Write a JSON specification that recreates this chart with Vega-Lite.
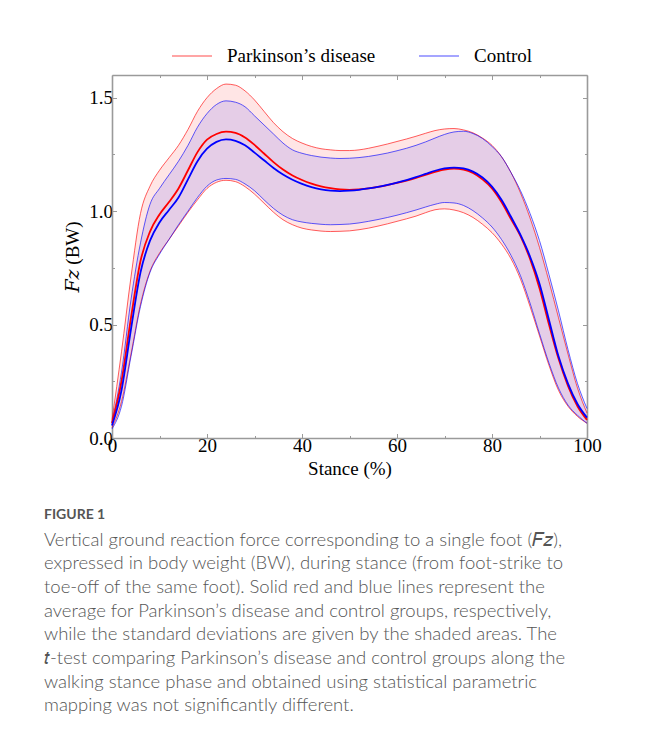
{
  "$schema": "https://vega.github.io/schema/vega-lite/v6.json",
  "width": 475,
  "height": 363,
  "autosize": {"type": "none"},
  "padding": {"left": 112, "top": 75, "right": 61, "bottom": 297},
  "background": "white",
  "config": {
    "view": {"stroke": null},
    "axis": {
      "labelFont": "Liberation Serif", "labelFontSize": 19, "labelColor": "black",
      "titleFont": "Liberation Serif, DejaVu Serif", "titleFontSize": 19, "titleFontWeight": "normal", "titleColor": "black",
      "domainColor": "#9a9a9a", "domainWidth": 1.6, "tickColor": "#9a9a9a", "tickWidth": 1,
      "grid": false, "labelFlush": false, "labelOverlap": false
    }
  },
  "title": {
    "text": "FIGURE 1",
    "subtitle": [
      "Vertical ground reaction force corresponding to a single foot (𝐹𝑧),",
      "expressed in body weight (BW), during stance (from foot-strike to",
      "toe-off of the same foot). Solid red and blue lines represent the",
      "average for Parkinson’s disease and control groups, respectively,",
      "while the standard deviations are given by the shaded areas. The",
      "𝑡-test comparing Parkinson’s disease and control groups along the",
      "walking stance phase and obtained using statistical parametric",
      "mapping was not significantly different."
    ],
    "orient": "bottom", "anchor": "start", "frame": "group", "dx": -68, "offset": 29,
    "font": "Lato", "fontSize": 14, "fontWeight": "bold", "color": "#555555",
    "subtitleFont": "Lato", "subtitleFontSize": 18.5, "subtitleFontWeight": 300, "subtitleColor": "#555555",
    "subtitleLineHeight": 23.7, "subtitlePadding": 9
  },
  "datasets": {
    "d": [
      {"x":0,"g":"Parkinson’s disease","lo":0.045,"m":0.065,"hi":0.08},
      {"x":2,"g":"Parkinson’s disease","lo":0.16,"m":0.25,"hi":0.38},
      {"x":4,"g":"Parkinson’s disease","lo":0.37,"m":0.53,"hi":0.71},
      {"x":6,"g":"Parkinson’s disease","lo":0.59,"m":0.78,"hi":0.99},
      {"x":8,"g":"Parkinson’s disease","lo":0.735,"m":0.91,"hi":1.11},
      {"x":10,"g":"Parkinson’s disease","lo":0.815,"m":0.985,"hi":1.18},
      {"x":12,"g":"Parkinson’s disease","lo":0.875,"m":1.04,"hi":1.235},
      {"x":14,"g":"Parkinson’s disease","lo":0.935,"m":1.10,"hi":1.29},
      {"x":16,"g":"Parkinson’s disease","lo":0.995,"m":1.18,"hi":1.36},
      {"x":18,"g":"Parkinson’s disease","lo":1.05,"m":1.26,"hi":1.44},
      {"x":20,"g":"Parkinson’s disease","lo":1.10,"m":1.315,"hi":1.50},
      {"x":22,"g":"Parkinson’s disease","lo":1.127,"m":1.34,"hi":1.54},
      {"x":24,"g":"Parkinson’s disease","lo":1.136,"m":1.35,"hi":1.56},
      {"x":26,"g":"Parkinson’s disease","lo":1.13,"m":1.345,"hi":1.555},
      {"x":28,"g":"Parkinson’s disease","lo":1.108,"m":1.325,"hi":1.53},
      {"x":30,"g":"Parkinson’s disease","lo":1.075,"m":1.292,"hi":1.49},
      {"x":32,"g":"Parkinson’s disease","lo":1.035,"m":1.254,"hi":1.44},
      {"x":34,"g":"Parkinson’s disease","lo":0.995,"m":1.216,"hi":1.39},
      {"x":36,"g":"Parkinson’s disease","lo":0.962,"m":1.183,"hi":1.35},
      {"x":38,"g":"Parkinson’s disease","lo":0.94,"m":1.157,"hi":1.32},
      {"x":40,"g":"Parkinson’s disease","lo":0.925,"m":1.137,"hi":1.30},
      {"x":42,"g":"Parkinson’s disease","lo":0.917,"m":1.121,"hi":1.285},
      {"x":44,"g":"Parkinson’s disease","lo":0.912,"m":1.109,"hi":1.275},
      {"x":46,"g":"Parkinson’s disease","lo":0.91,"m":1.101,"hi":1.27},
      {"x":48,"g":"Parkinson’s disease","lo":0.911,"m":1.096,"hi":1.267},
      {"x":50,"g":"Parkinson’s disease","lo":0.913,"m":1.094,"hi":1.267},
      {"x":52,"g":"Parkinson’s disease","lo":0.918,"m":1.096,"hi":1.27},
      {"x":54,"g":"Parkinson’s disease","lo":0.925,"m":1.10,"hi":1.277},
      {"x":56,"g":"Parkinson’s disease","lo":0.934,"m":1.107,"hi":1.286},
      {"x":58,"g":"Parkinson’s disease","lo":0.944,"m":1.115,"hi":1.296},
      {"x":60,"g":"Parkinson’s disease","lo":0.955,"m":1.124,"hi":1.307},
      {"x":62,"g":"Parkinson’s disease","lo":0.966,"m":1.134,"hi":1.318},
      {"x":64,"g":"Parkinson’s disease","lo":0.978,"m":1.146,"hi":1.33},
      {"x":66,"g":"Parkinson’s disease","lo":0.993,"m":1.16,"hi":1.343},
      {"x":68,"g":"Parkinson’s disease","lo":1.006,"m":1.173,"hi":1.355},
      {"x":70,"g":"Parkinson’s disease","lo":1.01,"m":1.183,"hi":1.362},
      {"x":72,"g":"Parkinson’s disease","lo":1.005,"m":1.187,"hi":1.364},
      {"x":74,"g":"Parkinson’s disease","lo":0.993,"m":1.183,"hi":1.358},
      {"x":76,"g":"Parkinson’s disease","lo":0.972,"m":1.168,"hi":1.345},
      {"x":78,"g":"Parkinson’s disease","lo":0.942,"m":1.14,"hi":1.322},
      {"x":80,"g":"Parkinson’s disease","lo":0.905,"m":1.10,"hi":1.29},
      {"x":82,"g":"Parkinson’s disease","lo":0.855,"m":1.04,"hi":1.24},
      {"x":84,"g":"Parkinson’s disease","lo":0.79,"m":0.965,"hi":1.17},
      {"x":86,"g":"Parkinson’s disease","lo":0.70,"m":0.89,"hi":1.08},
      {"x":88,"g":"Parkinson’s disease","lo":0.58,"m":0.79,"hi":0.97},
      {"x":90,"g":"Parkinson’s disease","lo":0.45,"m":0.66,"hi":0.84},
      {"x":92,"g":"Parkinson’s disease","lo":0.32,"m":0.50,"hi":0.69},
      {"x":94,"g":"Parkinson’s disease","lo":0.21,"m":0.35,"hi":0.53},
      {"x":96,"g":"Parkinson’s disease","lo":0.14,"m":0.23,"hi":0.37},
      {"x":98,"g":"Parkinson’s disease","lo":0.095,"m":0.14,"hi":0.22},
      {"x":100,"g":"Parkinson’s disease","lo":0.065,"m":0.08,"hi":0.11},
      {"x":0,"g":"Control","lo":0.04,"m":0.055,"hi":0.07},
      {"x":2,"g":"Control","lo":0.14,"m":0.21,"hi":0.29},
      {"x":4,"g":"Control","lo":0.36,"m":0.48,"hi":0.61},
      {"x":6,"g":"Control","lo":0.58,"m":0.73,"hi":0.86},
      {"x":8,"g":"Control","lo":0.73,"m":0.87,"hi":1.03},
      {"x":10,"g":"Control","lo":0.81,"m":0.95,"hi":1.10},
      {"x":12,"g":"Control","lo":0.875,"m":1.005,"hi":1.16},
      {"x":14,"g":"Control","lo":0.94,"m":1.06,"hi":1.22},
      {"x":16,"g":"Control","lo":1.0,"m":1.14,"hi":1.29},
      {"x":18,"g":"Control","lo":1.06,"m":1.22,"hi":1.37},
      {"x":20,"g":"Control","lo":1.11,"m":1.275,"hi":1.43},
      {"x":22,"g":"Control","lo":1.137,"m":1.305,"hi":1.47},
      {"x":24,"g":"Control","lo":1.144,"m":1.316,"hi":1.486},
      {"x":26,"g":"Control","lo":1.14,"m":1.31,"hi":1.48},
      {"x":28,"g":"Control","lo":1.12,"m":1.29,"hi":1.46},
      {"x":30,"g":"Control","lo":1.09,"m":1.258,"hi":1.42},
      {"x":32,"g":"Control","lo":1.05,"m":1.224,"hi":1.38},
      {"x":34,"g":"Control","lo":1.012,"m":1.19,"hi":1.34},
      {"x":36,"g":"Control","lo":0.982,"m":1.161,"hi":1.30},
      {"x":38,"g":"Control","lo":0.962,"m":1.138,"hi":1.27},
      {"x":40,"g":"Control","lo":0.952,"m":1.12,"hi":1.255},
      {"x":42,"g":"Control","lo":0.946,"m":1.106,"hi":1.245},
      {"x":44,"g":"Control","lo":0.942,"m":1.096,"hi":1.238},
      {"x":46,"g":"Control","lo":0.94,"m":1.09,"hi":1.234},
      {"x":48,"g":"Control","lo":0.941,"m":1.088,"hi":1.232},
      {"x":50,"g":"Control","lo":0.943,"m":1.09,"hi":1.233},
      {"x":52,"g":"Control","lo":0.948,"m":1.094,"hi":1.236},
      {"x":54,"g":"Control","lo":0.955,"m":1.10,"hi":1.241},
      {"x":56,"g":"Control","lo":0.963,"m":1.107,"hi":1.248},
      {"x":58,"g":"Control","lo":0.972,"m":1.116,"hi":1.256},
      {"x":60,"g":"Control","lo":0.982,"m":1.126,"hi":1.266},
      {"x":62,"g":"Control","lo":0.993,"m":1.137,"hi":1.277},
      {"x":64,"g":"Control","lo":1.005,"m":1.15,"hi":1.29},
      {"x":66,"g":"Control","lo":1.018,"m":1.164,"hi":1.305},
      {"x":68,"g":"Control","lo":1.03,"m":1.178,"hi":1.322},
      {"x":70,"g":"Control","lo":1.038,"m":1.188,"hi":1.338},
      {"x":72,"g":"Control","lo":1.036,"m":1.192,"hi":1.349},
      {"x":74,"g":"Control","lo":1.025,"m":1.188,"hi":1.352},
      {"x":76,"g":"Control","lo":1.002,"m":1.174,"hi":1.342},
      {"x":78,"g":"Control","lo":0.97,"m":1.148,"hi":1.32},
      {"x":80,"g":"Control","lo":0.93,"m":1.108,"hi":1.285},
      {"x":82,"g":"Control","lo":0.875,"m":1.05,"hi":1.24},
      {"x":84,"g":"Control","lo":0.805,"m":0.975,"hi":1.17},
      {"x":86,"g":"Control","lo":0.715,"m":0.895,"hi":1.09},
      {"x":88,"g":"Control","lo":0.595,"m":0.80,"hi":0.99},
      {"x":90,"g":"Control","lo":0.46,"m":0.68,"hi":0.87},
      {"x":92,"g":"Control","lo":0.33,"m":0.52,"hi":0.72},
      {"x":94,"g":"Control","lo":0.22,"m":0.36,"hi":0.56},
      {"x":96,"g":"Control","lo":0.145,"m":0.24,"hi":0.39},
      {"x":98,"g":"Control","lo":0.10,"m":0.15,"hi":0.24},
      {"x":100,"g":"Control","lo":0.065,"m":0.09,"hi":0.13}
    ]
  },
  "data": {"name": "d"},
  "layer": [
    {
      "transform": [{"filter": "datum.g !== 'Control'"}],
      "mark": {"type": "area", "interpolate": "monotone", "fill": "#ff0000", "fillOpacity": 0.1},
      "encoding": {
        "x": {"field": "x", "type": "quantitative", "scale": {"domain": [0, 100], "nice": false},
          "axis": {"orient": "bottom", "values": [0,10,20,30,40,50,60,70,80,90,100],
            "labelExpr": "datum.value % 20 === 0 ? datum.label : ''",
            "tickSize": {"condition": {"test": "datum.value % 20 === 0", "value": -4.5}, "value": -2.5},
            "labelPadding": 3, "title": "Stance (%)", "titlePadding": 2}},
        "y": {"field": "lo", "type": "quantitative", "stack": null, "scale": {"domain": [0, 1.6], "nice": false},
          "axis": {"orient": "left", "values": [0,0.25,0.5,0.75,1,1.25,1.5], "format": ".1f",
            "labelExpr": "(datum.value * 4) % 2 === 0 ? datum.label : ''",
            "tickSize": {"condition": {"test": "(datum.value * 4) % 2 === 0", "value": -4.5}, "value": -2.5},
            "labelPadding": 4, "title": "𝐹𝑧 (BW)", "titlePadding": 6}},
        "y2": {"field": "hi"}
      }
    },
    {
      "transform": [{"filter": "datum.g === 'Control'"}],
      "mark": {"type": "area", "interpolate": "monotone", "fill": "#0000ff", "fillOpacity": 0.1},
      "encoding": {
        "x": {"field": "x", "type": "quantitative",
          "axis": {"orient": "top", "values": [0,10,20,30,40,50,60,70,80,90,100], "labels": false, "title": null,
            "tickSize": {"condition": {"test": "datum.value % 20 === 0", "value": -4.5}, "value": -2.5}}},
        "y": {"field": "lo", "type": "quantitative", "stack": null,
          "axis": {"orient": "right", "values": [0,0.25,0.5,0.75,1,1.25,1.5], "labels": false, "title": null,
            "tickSize": {"condition": {"test": "(datum.value * 4) % 2 === 0", "value": -4.5}, "value": -2.5}}},
        "y2": {"field": "hi"}
      }
    },
    {
      "mark": {"type": "line", "interpolate": "monotone", "strokeWidth": 0.9, "opacity": 0.7},
      "encoding": {
        "x": {"field": "x", "type": "quantitative", "axis": null},
        "y": {"field": "hi", "type": "quantitative", "axis": null},
        "stroke": {"field": "g", "type": "nominal"}
      }
    },
    {
      "mark": {"type": "line", "interpolate": "monotone", "strokeWidth": 0.9, "opacity": 0.7},
      "encoding": {
        "x": {"field": "x", "type": "quantitative", "axis": null},
        "y": {"field": "lo", "type": "quantitative", "axis": null},
        "stroke": {"field": "g", "type": "nominal"}
      }
    },
    {
      "mark": {"type": "line", "interpolate": "monotone", "strokeWidth": 1.8},
      "encoding": {
        "x": {"field": "x", "type": "quantitative", "axis": null},
        "y": {"field": "m", "type": "quantitative", "axis": null},
        "stroke": {"field": "g", "type": "nominal",
          "scale": {"domain": ["Parkinson’s disease", "Control"], "range": ["#ff0000", "#0000ff"]},
          "legend": {"orient": "none", "legendX": 59, "legendY": -40, "direction": "horizontal", "title": null,
            "symbolType": "stroke", "symbolSize": 1600, "symbolStrokeWidth": 1.2, "symbolOpacity": 1,
            "labelFont": "Liberation Serif", "labelFontSize": 19, "labelColor": "black",
            "labelOffset": 14, "columnPadding": 40, "padding": 0}}
      }
    }
  ],
  "resolve": {"axis": {"x": "independent", "y": "independent"}}
}
